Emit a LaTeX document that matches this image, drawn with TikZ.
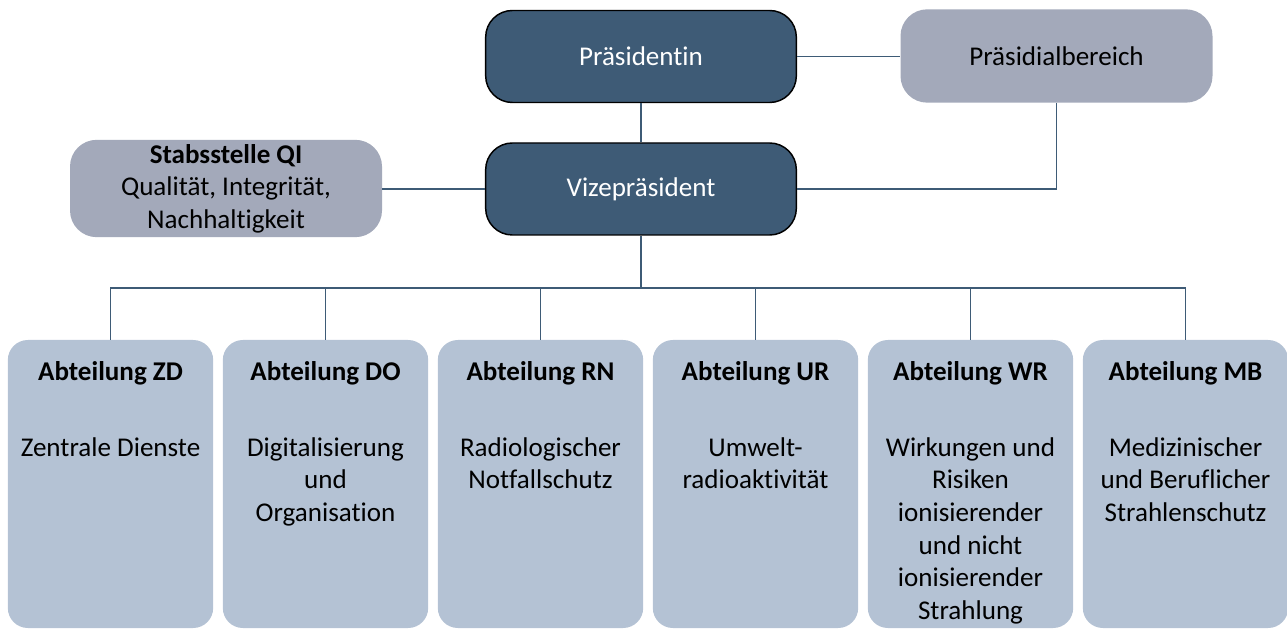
\documentclass[tikz,border=0pt]{standalone}
\usepackage{fontspec}
\setmainfont{Carlito}[Ligatures=NoCommon]
\definecolor{darkbox}{HTML}{3E5B76}
\definecolor{graybox}{HTML}{A3A9BA}
\definecolor{lightbox}{HTML}{B4C2D4}
\definecolor{linec}{HTML}{3E5B76}
\begin{document}
\begin{tikzpicture}[x=0.75pt,y=-0.75pt,
  every node/.style={font=\fontsize{20.3}{24.5}\selectfont},
  topbox/.style={draw=black,line width=1.1pt,fill=darkbox,text=white,rounded corners=20pt,
    minimum width=233pt,minimum height=69pt,inner sep=0pt},
  sidebox/.style={fill=graybox,text=black,rounded corners=20pt,
    minimum width=234pt,minimum height=70pt,inner sep=0pt,align=center},
  deptbox/.style={fill=lightbox,rounded corners=15pt,minimum width=154pt,minimum height=216pt,inner sep=0pt},
  depttitle/.style={font=\fontsize{20.3}{24.5}\selectfont\bfseries,inner sep=0pt},
  deptbody/.style={align=center,anchor=north,inner sep=0pt},
  conn/.style={draw=linec,line width=1pt}
]
\useasboundingbox (0,0) rectangle (1287,630);
% top level
\node[topbox] (praes) at (641,56.5) {Präsidentin};
\node[topbox] (vize) at (641,189) {Vizepräsident};
\node[sidebox] (pb) at (1056.5,56) {Präsidialbereich};
\node[sidebox,minimum height=73pt] (stabs) at (226,188.5) {\textbf{Stabsstelle QI}\\Qualität, Integrität,\\Nachhaltigkeit};
% departments
\foreach \n/\x in {zd/110.5,do/325.5,rn/540.5,ur/755.5,wr/970.5,mb/1185.5}{
  \node[deptbox] (\n) at (\x,484) {};
}
\node[depttitle] (zdt) at (110.5,373) {Abteilung ZD};
\node[depttitle] (dot) at (325.5,373) {Abteilung DO};
\node[depttitle] (rnt) at (540.5,373) {Abteilung RN};
\node[depttitle] (urt) at (755.5,373) {Abteilung UR};
\node[depttitle] (wrt) at (970.5,373) {Abteilung WR};
\node[depttitle] (mbt) at (1185.5,373) {Abteilung MB};
\node[deptbody] (zdb) at (110.5,437) {Zentrale Dienste};
\node[deptbody] (dob) at (325.5,437) {Digitalisierung\\und\\Organisation};
\node[deptbody] (rnb) at (540.5,437) {Radiologischer\\Notfallschutz};
\node[deptbody] (urb) at (755.5,437) {Umwelt-\\radioaktivität};
\node[deptbody] (wrb) at (970.5,437) {Wirkungen und\\Risiken\\ionisierender\\und nicht\\ionisierender\\Strahlung};
\node[deptbody] (mbb) at (1185.5,437) {Medizinischer\\und Beruflicher\\Strahlenschutz};
% connectors
\draw[conn] (praes) -- (vize);
\draw[conn] (praes.east) -- (pb.west |- praes.east);
\draw[conn] (pb.south) |- (vize.east);
\draw[conn] (stabs.east |- vize.west) -- (vize.west);
\coordinate (bus) at (641,288);
\draw[conn] (vize.south) -- (bus);
\draw[conn] (zd.north) |- (bus) -| (mb.north);
\foreach \n in {do,rn,ur,wr}{
  \draw[conn] (bus -| \n.north) -- (\n.north);
}
\end{tikzpicture}
\end{document}
